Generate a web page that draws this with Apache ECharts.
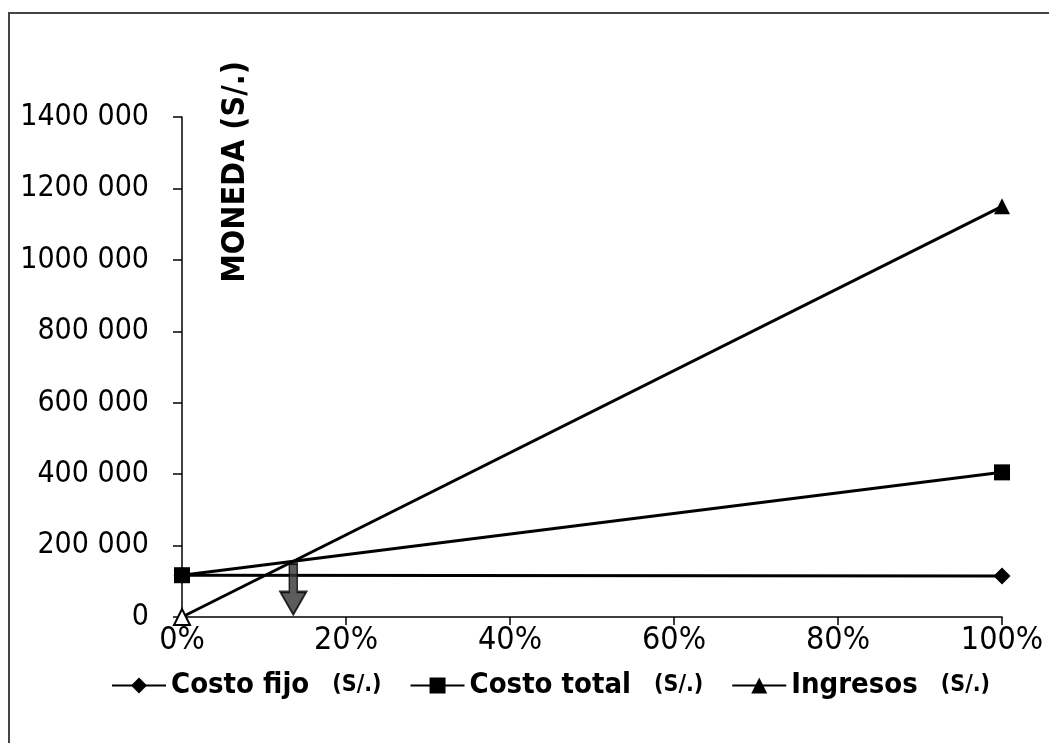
<!DOCTYPE html>
<html>
<head>
<meta charset="utf-8">
<script src="https://cdn.jsdelivr.net/npm/echarts@6/dist/echarts.min.js"></script>
<style>
  html, body { margin: 0; padding: 0; background: #fff; }
  #chart { width: 1049px; height: 743px; }
</style>
</head>
<body>
<div id="chart"></div>
<script>
// Break-even chart: fixed cost, total cost and revenue vs. activity level
const nivel = [0, 1];                       // 0% and 100% of capacity
const costoFijo = [117000, 115000];
const costoTotal = [117000, 405000];
const ingresos = [0, 1150000];
const yMax = 1400000;
const yStep = 200000;

const nombres = ['Costo fijo', 'Costo total', 'Ingresos'];
const unidad = '(S/.)';

// Break-even point where revenue meets total cost
const slopeCT = (costoTotal[1] - costoTotal[0]) / (nivel[1] - nivel[0]);
const slopeIN = (ingresos[1] - ingresos[0]) / (nivel[1] - nivel[0]);
const xEq = (costoTotal[0] - ingresos[0]) / (slopeIN - slopeCT);
const yEq = ingresos[0] + slopeIN * xEq;

const chart = echarts.init(document.getElementById('chart'), null, { renderer: 'canvas' });

const fontAxis = '"DejaVu Sans Condensed", "Liberation Sans", Arial, sans-serif';
const fontBold = '"DejaVu Sans Condensed", "DejaVu Sans", Verdana, sans-serif';

function pairs(ys) { return nivel.map((x, i) => [x, ys[i]]); }

const arrowPath = 'path://M9,0 L17,0 L17,30 L26,30 L13,54 L0,30 L9,30 Z';

chart.setOption({
  animation: false,
  backgroundColor: '#ffffff',
  grid: { left: 182, right: 47, top: 117, bottom: 126 },
  xAxis: {
    type: 'value', min: 0, max: 1, interval: 0.2,
    axisLine: { lineStyle: { color: '#000', width: 1.5 } },
    axisTick: { show: true, length: 8, lineStyle: { color: '#000', width: 1.5 } },
    splitLine: { show: false },
    axisLabel: {
      color: '#000', fontFamily: fontAxis, fontSize: 32, margin: 8,
      formatter: v => Math.round(v * 100) + '%'
    }
  },
  yAxis: {
    type: 'value', min: 0, max: yMax, interval: yStep,
    axisLine: { show: true, lineStyle: { color: '#000', width: 1.5 } },
    axisTick: { show: true, length: 9, lineStyle: { color: '#000', width: 1.5 } },
    splitLine: { show: false },
    axisLabel: {
      color: '#000', fontFamily: fontAxis, fontSize: 30, margin: 33,
      formatter: v => v === 0 ? '0' : Math.floor(v / 1000) + ' 000'
    }
  },
  legend: {
    data: nombres.map(n => n + ' ' + unidad),
    left: 106, top: 666,
    itemWidth: 54, itemHeight: 20, itemGap: 28,
    formatter: name => {
      const base = name.replace(' ' + unidad, '');
      return '{a|' + base + '}{b|' + unidad + '}';
    },
    textStyle: {
      rich: {
        a: { fontFamily: fontBold, fontWeight: 'bold', fontSize: 29, color: '#000', padding: [0, 23, 0, 0] },
        b: { fontFamily: fontBold, fontWeight: 'bold', fontSize: 23, color: '#000' }
      }
    }
  },
  graphic: [
    {
      type: 'polyline', silent: true,
      shape: { points: [[9, 743], [9, 13], [1049, 13]] },
      style: { stroke: '#444', lineWidth: 2, fill: null }
    },
    {
      type: 'text', x: 236, y: 172, rotation: Math.PI / 2,
      style: {
        text: 'MONEDA (S/.)', fill: '#000',
        font: 'bold 32px ' + fontBold,
        textAlign: 'center', textVerticalAlign: 'middle'
      }
    }
  ],
  series: [
    {
      name: nombres[0] + ' ' + unidad, type: 'line', data: pairs(costoFijo),
      symbol: 'diamond', symbolSize: 17,
      lineStyle: { color: '#000', width: 3 },
      itemStyle: { color: '#000' }
    },
    {
      name: nombres[1] + ' ' + unidad, type: 'line', data: pairs(costoTotal),
      symbol: 'rect', symbolSize: 16,
      lineStyle: { color: '#000', width: 3 },
      itemStyle: { color: '#000' }
    },
    {
      name: nombres[2] + ' ' + unidad, type: 'line',
      data: pairs(ingresos).map((p, i) => i === 0
        ? { value: p, itemStyle: { color: '#fff', borderColor: '#000', borderWidth: 2 } }
        : { value: p }),
      symbol: 'triangle', symbolSize: 16,
      lineStyle: { color: '#000', width: 3 },
      itemStyle: { color: '#000' }
    },
    {
      // downward arrow marking the break-even level
      type: 'scatter', silent: true,
      data: [[xEq, yEq / 2]],
      symbol: arrowPath, symbolSize: [26, Math.round(yEq / yStep * 71) - 4],
      symbolKeepAspect: false,
      itemStyle: { color: '#333', borderColor: '#000', borderWidth: 2 },
      z: 5
    }
  ]
});
</script>
</body>
</html>
